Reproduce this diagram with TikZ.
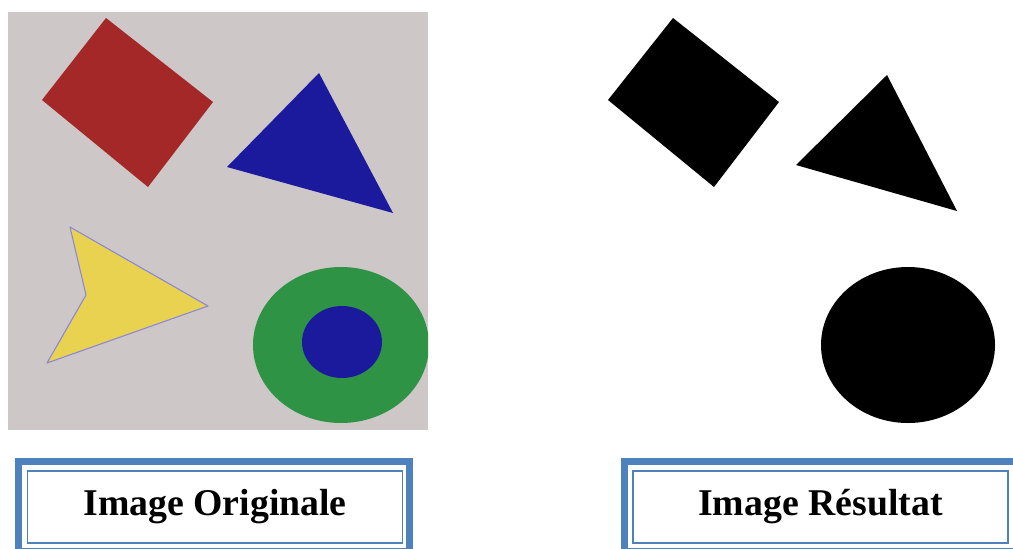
\documentclass[tikz,border=0pt]{standalone}
\usepackage{fontspec}
\setmainfont{Liberation Serif}
\usepackage{tikz}
\usetikzlibrary{
  positioning,
  calc
}
\usepackage{xcolor}
\definecolor{cadrebleu}{HTML}{4F81BD}
\definecolor{fondgris}{HTML}{CDC7C7}
\definecolor{rouge}{HTML}{A42828}
\definecolor{bleu}{HTML}{1C1A9C}
\definecolor{jaune}{HTML}{E8D24F}
\definecolor{vert}{HTML}{2F9346}
\definecolor{contour}{HTML}{8A86D8}

\begin{document}
\begin{tikzpicture}[
  x=0.02cm, y=-0.02cm,
  legende/.style={draw=cadrebleu, line width=0.9pt, fill=white, minimum width=7.5cm,
                  minimum height=1.44cm, inner sep=0pt,
                  font=\fontsize{21.5}{24}\selectfont\bfseries},
  cadreext/.style={draw=cadrebleu, line width=4pt},
  forme/.style={line join=round},
]
  \useasboundingbox[fill=white] (0,0) rectangle (1013,548);

  \begin{scope}
    \clip (8,12) rectangle (428,430);
    \fill[fondgris] (8,12) rectangle (428,430);
    \fill[forme, rouge] (106,18) -- (213,102) -- (148,187) -- (42,100) -- cycle;
    \fill[forme, bleu] (319,73) -- (393,213) -- (227,167) -- cycle;
    \filldraw[forme, fill=jaune, draw=contour, line width=0.6pt]
      (70,227) -- (208,306) -- (47,363) -- (86,295) -- cycle;
    \fill[vert] (341,345) ellipse [x radius=88, y radius=78];
    \fill[bleu] (342,342) ellipse [x radius=40, y radius=36];
  \end{scope}

  \begin{scope}
    \clip (590,0) rectangle (995,440);
    \fill[forme, black] (673,18) -- (779,102) -- (714,187) -- (608,100) -- cycle;
    \fill[forme, black] (887,75) -- (957,211) -- (796,165) -- cycle;
    \fill[black] (908,345) ellipse [x radius=87, y radius=78];
  \end{scope}

  \node[legende] (orig) at (215,507) {Image Originale};
  \draw[cadreext] ([shift={(-8,-9)}]orig.north west) rectangle ([shift={(6,8)}]orig.south east);

  \node[legende] (resultat) at (820.5,507) {Image Résultat};
  \draw[cadreext] ([shift={(-8,-9)}]resultat.north west) rectangle ([shift={(8,8)}]resultat.south east);
\end{tikzpicture}
\end{document}
